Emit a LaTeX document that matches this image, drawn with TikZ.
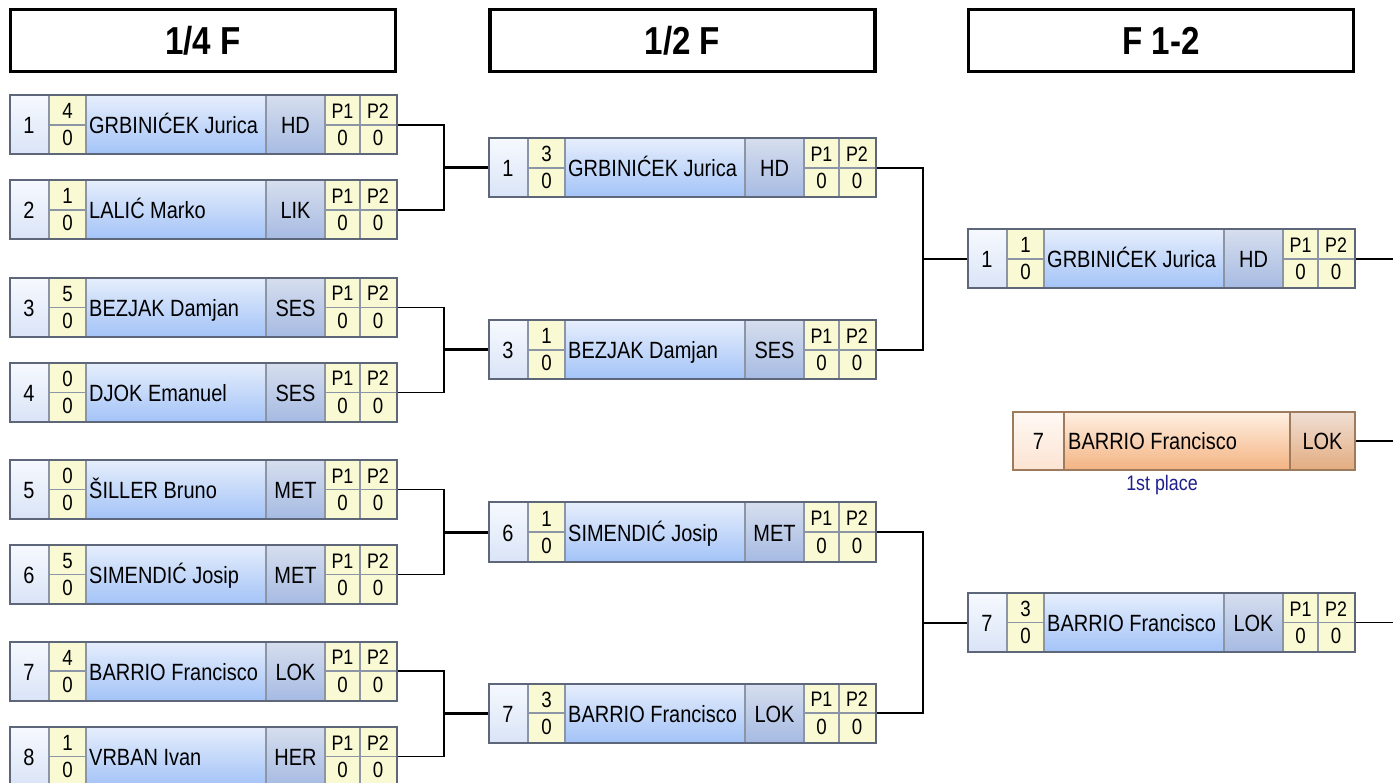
\documentclass[tikz,border=0pt]{standalone}
\usepackage{fontspec}
\setmainfont{Liberation Sans}[FakeStretch=0.85]
\usepackage{tikz}
\usetikzlibrary{math,calc}
\definecolor{framecolor}{HTML}{5E6779}
\definecolor{linecolor}{HTML}{8C95A6}
\definecolor{seedtop}{HTML}{F6F9FE}
\definecolor{seedbot}{HTML}{DAE4F7}
\definecolor{scorecolor}{HTML}{F9F9D3}
\definecolor{nametop}{HTML}{E6EEFC}
\definecolor{namebot}{HTML}{A3C3F7}
\definecolor{clubtop}{HTML}{D6DEEE}
\definecolor{clubbot}{HTML}{A6BAE2}
\definecolor{champframe}{HTML}{9E7B5D}
\definecolor{champseedtop}{HTML}{FFF9F4}
\definecolor{champseedbot}{HTML}{FBE3D2}
\definecolor{champnametop}{HTML}{FFF0E2}
\definecolor{champnamebot}{HTML}{F3B382}
\definecolor{champclubtop}{HTML}{EFDFD4}
\definecolor{champclubbot}{HTML}{E3AC80}
\definecolor{placecolor}{HTML}{1E1E8C}
\newcommand{\playerfont}{\fontsize{23.5}{26}\selectfont}
\newcommand{\scorefont}{\fontsize{22}{24}\selectfont}
\newcommand{\ptfont}{\fontsize{21}{24}\selectfont}
\newcommand{\headfont}{\fontsize{39}{44}\selectfont\bfseries}
\newcommand{\placefont}{\fontsize{21}{24}\selectfont}

\begin{document}
\begin{tikzpicture}[x=1pt, y=-1pt]

    \tikzset{%
        playertext/.style={font=\playerfont, inner sep=0pt, anchor=base},
        scoretext/.style={font=\scorefont, inner sep=0pt, anchor=base},
        ptext/.style={font=\ptfont, inner sep=0pt, anchor=base},
        cellline/.style={draw=linecolor, line width=1.2pt},
        boxframe/.style={draw=framecolor, line width=2pt, minimum width=387pt, minimum height=59pt, inner sep=0pt, anchor=west},
        headbox/.style={draw=black, line width=3.5pt, minimum width=385pt, minimum height=62pt, inner sep=0pt, font=\headfont, text height=28pt, text depth=0pt},
        bracket/.style={draw=black, line width=1.8pt},
        feedone/.style={draw=black, line width=3pt},
        feedtwo/.style={draw=black, line width=2pt},
        pics/playerbox/.style args={#1/#2/#3/#4}{%
                code={%

                        \tikzmath{%
                            \halfh=29.5;
                        };

                        \shade [top color=seedtop, bottom color=seedbot] (0, -\halfh) rectangle (40, \halfh);
                        \fill [scorecolor] (40, -\halfh) rectangle (77, \halfh);
                        \shade [top color=nametop, bottom color=namebot] (77, -\halfh) rectangle (257, \halfh);
                        \shade [top color=clubtop, bottom color=clubbot] (257, -\halfh) rectangle (316, \halfh);
                        \fill [scorecolor] (316, -\halfh) rectangle (387, \halfh);
                        \foreach \i in {40, 77, 316, 351} {%
                                \draw [cellline] (\i, -\halfh) -- (\i, \halfh);
                            }
                        \draw [cellline] (40, 0) -- (77, 0) (316, 0) -- (387, 0);
                        \draw [cellline, line width=2pt] (257, -\halfh) -- (257, \halfh);
                        \node [playertext] (-seed) at (20, 9) {#1};
                        \node [scoretext] (-won) at (58.5, -6) {#2};
                        \node [scoretext] (-lost) at (58.5, 21) {0};
                        \node [playertext, anchor=base west] (-name) at (80, 9) {#3};
                        \node [playertext] (-club) at (286.5, 9) {#4};
                        \node [ptext] (-pone) at (333.5, -6.5) {P1};
                        \node [ptext] (-ptwo) at (369, -6.5) {P2};
                        \node [scoretext] (-pyone) at (333.5, 21) {0};
                        \node [scoretext] (-pytwo) at (369, 21) {0};
                        \node [boxframe] (-box) at (0, 0) {};

                    }
            }
    }

    \useasboundingbox (0, 0) rectangle (1393, 783);

    % round headers
    \node [headbox] (h1) at (203, 40.5) {1/4 F};
    \node [headbox] (h2) at (682.5, 40.5) {1/2 F};
    \node [headbox] (h3) at (1161, 40.5) {F 1-2};

    % quarter finals
    \pic (q1) at (9, 125) {playerbox=1/4/GRBINIĆEK Jurica/HD};
    \pic (q2) at (9, 210) {playerbox=2/1/LALIĆ Marko/LIK};
    \pic (q3) at (9, 307.5) {playerbox=3/5/BEZJAK Damjan/SES};
    \pic (q4) at (9, 392.5) {playerbox=4/0/DJOK Emanuel/SES};
    \pic (q5) at (9, 489.5) {playerbox=5/0/ŠILLER Bruno/MET};
    \pic (q6) at (9, 574.5) {playerbox=6/5/SIMENDIĆ Josip/MET};
    \pic (q7) at (9, 671) {playerbox=7/4/BARRIO Francisco/LOK};
    \pic (q8) at (9, 756.5) {playerbox=8/1/VRBAN Ivan/HER};

    % semi finals
    \pic (s1) at (488, 168) {playerbox=1/3/GRBINIĆEK Jurica/HD};
    \pic (s2) at (488, 350) {playerbox=3/1/BEZJAK Damjan/SES};
    \pic (s3) at (488, 532) {playerbox=6/1/SIMENDIĆ Josip/MET};
    \pic (s4) at (488, 713) {playerbox=7/3/BARRIO Francisco/LOK};

    % final
    \pic (f1) at (967, 259) {playerbox=1/1/GRBINIĆEK Jurica/HD};
    \pic (f2) at (967, 622.5) {playerbox=7/3/BARRIO Francisco/LOK};

    % winner
    \shade [top color=champseedtop, bottom color=champseedbot] (1013, 412) rectangle (1064, 470);
    \shade [top color=champnametop, bottom color=champnamebot] (1064, 412) rectangle (1290, 470);
    \shade [top color=champclubtop, bottom color=champclubbot] (1290, 412) rectangle (1355, 470);
    \draw [draw=champframe, line width=1.5pt] (1064, 412) -- (1064, 470) (1290, 412) -- (1290, 470);
    \node [playertext] (cseed) at (1038.5, 450) {7};
    \node [playertext, anchor=base west] (cname) at (1068, 450) {BARRIO Francisco};
    \node [playertext] (cclub) at (1322.5, 450) {LOK};
    \node [draw=champframe, line width=2pt, minimum width=342pt, minimum height=58pt, inner sep=0pt] (champ) at (1184, 441) {};
    \node [font=\placefont, text=placecolor, inner sep=0pt, anchor=base] (place) at (1162, 490) {1st place};

    % brackets
    \foreach \a/\b/\s in {q1/q2/s1, q3/q4/s2, q5/q6/s3, q7/q8/s4} {%
            \coordinate (j\s) at ([xshift=46pt]\a-box.east |- \s-box.west);
            \draw [bracket] (\a-box.east) -| (j\s) |- (\b-box.east);
            \draw [feedone] (j\s) -- (\s-box.west);
        }
    \foreach \a/\b/\s in {s1/s2/f1, s3/s4/f2} {%
            \coordinate (j\s) at ([xshift=46pt]\a-box.east |- \s-box.west);
            \draw [bracket] (\a-box.east) -| (j\s) |- (\b-box.east);
            \draw [feedtwo] (j\s) -- (\s-box.west);
        }
    \coordinate (rim) at (1393, 0);
    \draw [bracket] (f1-box.east) -- (f1-box.east -| rim);
    \draw [bracket] (f2-box.east) -- (f2-box.east -| rim);
    \draw [bracket] (champ.east) -- (champ.east -| rim);

\end{tikzpicture}
\end{document}
